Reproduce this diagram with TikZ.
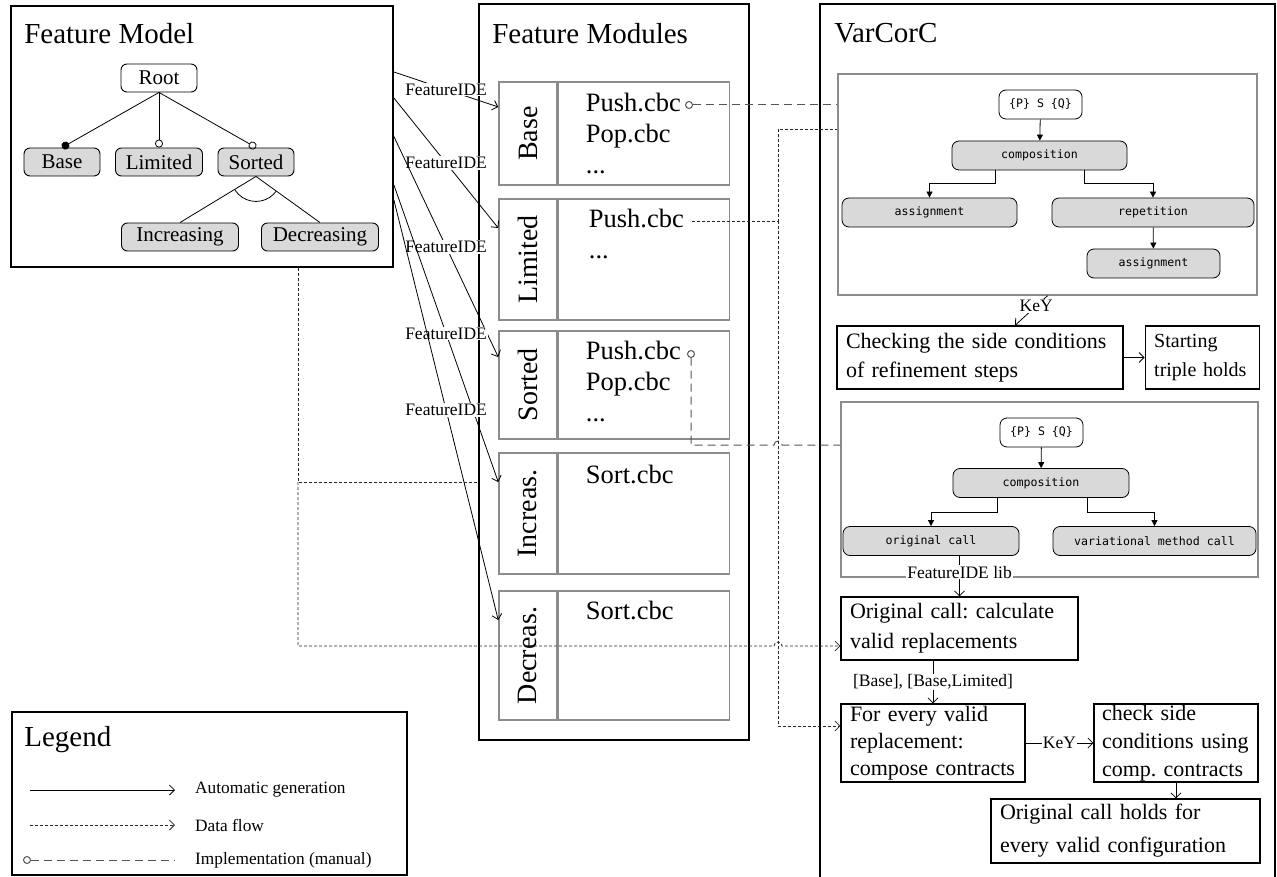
\documentclass[tikz,border=0pt]{standalone}
\usepackage{fontspec}
\setmainfont{Liberation Serif}
\setmonofont{DejaVu Sans Mono}
\usetikzlibrary{arrows.meta, positioning, calc}
\definecolor{featgray}{RGB}{217,217,217}
\definecolor{boxgray}{RGB}{140,140,140}
\definecolor{implgray}{RGB}{85,85,85}
\frenchspacing

\begin{document}
\begin{tikzpicture}[
    x=1pt, y=-1pt,
    panel/.style 2 args={draw=black, line width=1.8pt, minimum width=#1,
                         minimum height=#2, inner sep=0pt},
    paneltitle/.style={anchor=west, inner sep=0pt, font=\fontsize{29}{34}\selectfont},
    feat/.style={draw=black, line width=0.9pt, rounded corners=6pt, fill=featgray,
                 minimum width=#1, minimum height=28pt, inner sep=0pt,
                 font=\fontsize{21}{24}\selectfont},
    level 1/.style={sibling distance=97pt, level distance=84pt},
    level 2/.style={sibling distance=140pt, level distance=75pt},
    parent anchor=south, child anchor=north,
    edge from parent/.style={draw, line width=0.8pt},
    modcol/.style={draw=boxgray, line width=1.5pt, minimum width=58pt,
                   minimum height=#1, inner sep=0pt},
    modbody/.style={draw=boxgray, line width=1.5pt, minimum width=171pt,
                    minimum height=#1, inner sep=0pt},
    modname/.style={rotate=90, inner sep=0pt, font=\fontsize{28}{30}\selectfont},
    modtext/.style={align=left, inner sep=0pt, font=\fontsize{26.5}{31}\selectfont},
    lbl/.style={fill=white, inner sep=1pt, font=\fontsize{17.5}{20}\selectfont},
    gen/.style={line width=0.8pt, -{Straight Barb[length=5pt,width=10pt]}},
    flow/.style={line width=0.8pt, draw=black!85, dash pattern=on 3pt off 2pt},
    flowarrow/.style={flow, -{Straight Barb[length=5pt,width=10pt]}},
    impl/.style={line width=1pt, draw=implgray, dash pattern=on 8pt off 5pt,
                 {Circle[open,length=8pt]}-},
    vbox/.style 2 args={draw=boxgray, line width=1.5pt, minimum width=#1,
                        minimum height=#2, inner sep=0pt},
    cbc/.style={draw=black, line width=0.8pt, rounded corners=7pt, fill=featgray,
                minimum width=#1, minimum height=29pt, inner sep=0pt,
                font=\ttfamily\fontsize{11.6}{13}\selectfont},
    cbcarrow/.style={line width=0.8pt, -{Triangle[length=6pt,width=6pt]}},
    stepbox/.style 2 args={draw=black, line width=1.2pt, align=left, text width=#1,
                           minimum height=#2, inner xsep=9pt, inner ysep=0pt,
                           font=\fontsize{22}{29}\selectfont},
    legtext/.style={anchor=west, inner sep=0pt, font=\fontsize{17.3}{20}\selectfont}
]
\useasboundingbox (0,0) rectangle (1277,877);

% panels
\node[panel={382pt}{261pt}] (fm) at (202,136.5) {};
\node[panel={270pt}{736pt}] (fmod) at (614,372) {};
\node[panel={455pt}{886pt}] (varc) at (1047.5,447) {};
\node[panel={395pt}{163pt}] (leg) at (209.5,793.5) {};
\node[paneltitle] at ([xshift=14pt,yshift=-28pt]fm.north west) {Feature Model};
\node[paneltitle] at ([xshift=14pt,yshift=-30pt]fmod.north west) {Feature Modules};
\node[paneltitle] at ([xshift=15pt,yshift=-30pt]varc.north west) {VarCorC};
\node[paneltitle] at ([xshift=13pt,yshift=-28pt]leg.north west) {Legend};

% feature model
\node[feat=76pt, fill=white] (root) at (159,78) {Root}
    child { node[feat=76pt] (base) {Base}
        edge from parent[-{Circle[length=8pt]}]
    }
    child { node[feat=87pt] (lim) {Limited}
        edge from parent[-{Circle[open,length=8pt]}]
    }
    child { node[feat=76pt] (sorted) {Sorted}
        child { node[feat=117pt, xshift=-6pt] (inc) {Increasing} }
        child { node[feat=117pt, xshift=-6pt] (dec) {Decreasing} }
        edge from parent[-{Circle[open,length=8pt]}]
    };
\begin{scope}
    \clip (sorted.south) -- (inc.north) -- (dec.north) -- cycle;
    \draw[line width=0.8pt] (sorted.south) circle[radius=25pt];
\end{scope}

% feature modules
\node[modcol=103pt] (mBase) at (528,133.5) {};
\node[modbody=103pt, right=0pt of mBase] (bBase) {};
\node[modname] at (mBase) {Base};
\node[modtext, below right=12pt and 28pt of bBase.north west] (tBase) {Push.cbc\\Pop.cbc\\...};

\node[modcol=121pt] (mLim) at (528,259.5) {};
\node[modbody=121pt, right=0pt of mLim] (bLim) {};
\node[modname] at (mLim) {Limited};
\node[modtext, below right=11pt and 31pt of bLim.north west] (tLim) {Push.cbc\\...};

\node[modcol=108pt] (mSort) at (528,385) {};
\node[modbody=108pt, right=0pt of mSort] (bSort) {};
\node[modname] at (mSort) {Sorted};
\node[modtext, below right=11pt and 28pt of bSort.north west] (tSort) {Push.cbc\\Pop.cbc\\...};

\node[modcol=121pt] (mInc) at (528,513.5) {};
\node[modbody=121pt, right=0pt of mInc] (bInc) {};
\node[modname] at (mInc) {Increas.};
\node[modtext, below right=13pt and 28pt of bInc.north west] (tInc) {Sort.cbc};

\node[modcol=129pt] (mDec) at (528,655.5) {};
\node[modbody=129pt, right=0pt of mDec] (bDec) {};
\node[modname] at (mDec) {Decreas.};
\node[modtext, below right=11pt and 28pt of bDec.north west] (tDec) {Sort.cbc};

% VarCorC, first CbC tree
\node[vbox={419pt}{221pt}] (vbox1) at (1047.5,184.5) {};
\node[cbc=83pt, fill=white] (pq1) at (1040.5,104.5) {\{P\} S \{Q\}};
\node[cbc=175pt] (comp1) at (1039.5,155.5) {composition};
\node[cbc=175pt] (asg1) at (929.5,212.5) {assignment};
\node[cbc=202pt] (rep1) at (1153,212.5) {repetition};
\node[cbc=133pt] (asg2) at (1153.5,263.5) {assignment};
\draw[cbcarrow] (pq1) -- (comp1);
\draw[cbcarrow] ([xshift=-44pt]comp1.south) -- ++(0,13) -| (asg1.north);
\draw[cbcarrow] ([xshift=45pt]comp1.south) -- ++(0,13) -| (rep1.north);
\draw[cbcarrow] (rep1) -- (asg2);

\node[stepbox={268pt}{63pt}] (chk) at (980,357.5) {Checking the side conditions\\of refinement steps};
\node[stepbox={96pt}{63pt}, font=\fontsize{20}{29}\selectfont, right=21pt of chk] (start) {Starting\\triple holds};

% VarCorC, second CbC tree
\node[vbox={417pt}{175pt}] (vbox2) at (1049.5,489.5) {};
\node[cbc=83pt, fill=white] (pq2) at (1041.5,432.5) {\{P\} S \{Q\}};
\node[cbc=176pt] (comp2) at (1041,483) {composition};
\node[cbc=176pt] (ocall) at (931,541) {original call};
\node[cbc=203pt] (vcall) at (1154.5,541) {variational method call};
\draw[cbcarrow] (pq2) -- (comp2);
\draw[cbcarrow] ([xshift=-44pt]comp2.south) -- ++(0,14) -| (ocall.north);
\draw[cbcarrow] ([xshift=46pt]comp2.south) -- ++(0,14) -| (vcall.north);

\node[stepbox={219pt}{63pt}, font=\fontsize{22}{30}\selectfont] (orig) at (959.5,628.5) {Original call: calculate\\valid replacements};
\node[stepbox={166pt}{78pt}, font=\fontsize{22}{27}\selectfont] (every) at (933,743) {For every valid\\replacement:\\compose contracts};
\node[stepbox={148pt}{78pt}, inner xsep=8pt, font=\fontsize{22}{28}\selectfont] (side) at (1176,743) {check side\\conditions using\\comp. contracts};
\node[stepbox={251pt}{64pt}, font=\fontsize{22}{33}\selectfont] (holds) at (1125.5,831) {Original call holds for\\every valid configuration};

% automatic generation
\draw[gen] ([yshift=64.5pt]fm.east) -- node[lbl] {FeatureIDE} ([yshift=26.5pt]mBase.west);
\draw[gen] ([yshift=38.5pt]fm.east) -- node[lbl] {FeatureIDE} ([yshift=31.5pt]mLim.west);
\draw[gen] (fm.east) -- node[lbl] {FeatureIDE} ([yshift=28pt]mSort.west);
\draw[gen] ([yshift=-48.5pt]fm.east) -- node[lbl] {FeatureIDE} ([yshift=31.5pt]mInc.west);
\draw[gen] ([yshift=-63.5pt]fm.east) -- node[lbl] {FeatureIDE} ([yshift=35.5pt]mDec.west);
\draw[gen] (vbox1.south) -- node[lbl, pos=0.35] {KeY} ([xshift=35pt]chk.north);
\draw[gen] (chk.east) -- (chk.east -| start.west);
\draw[gen] (ocall.south -| orig.north) -- node[lbl, pos=0.4] {FeatureIDE lib} (orig.north);
\draw[gen] (every.north |- orig.south) -- node[lbl] {[Base], [Base,Limited]} (every.north);
\draw[gen] (every.east) -- node[lbl] {KeY} (side.west);
\draw[gen] (side.south) -- (side.south |- holds.north);

% implementation (manual)
\coordinate (pushB) at (685,105);
\coordinate (pushS) at (691,350);
\draw[impl] (pushB) -- (pushB -| vbox1.west);
\draw[impl] (pushS) -- (pushS |- 0,445) -- (774,445)
    arc[start angle=180, end angle=0, radius=4pt] -- (vbox2.west |- 0,445);

% data flow
\coordinate (pushL) at (692,221);
\coordinate (junc) at (778,221);
\coordinate (dfork) at (298,482);
\draw[flow] (pushL) -- (junc) |- (vbox1.west |- 0,129);
\draw[flowarrow] (junc) |- ([yshift=17pt]every.west);
\draw[flow] ([xshift=96pt]fm.south) -- (dfork) -- (fmod.west |- dfork);
\draw[flowarrow] (dfork) -- (dfork |- 0,646) -- (774,646)
    arc[start angle=180, end angle=0, radius=4pt] -- (orig.west |- 0,646);

% legend
\node[legtext] (lgen) at (195,790) {Automatic generation};
\node[legtext] (lflow) at (195,825) {Data flow};
\node[legtext] (limpl) at (195,860) {Implementation (manual)};
\draw[gen] ([xshift=-165pt]lgen.west) -- ([xshift=-20pt]lgen.west);
\draw[flowarrow] ([xshift=-165pt]lflow.west) -- ([xshift=-20pt]lflow.west);
\draw[impl] ([xshift=-172pt]limpl.west) -- ([xshift=-20pt]limpl.west);
\end{tikzpicture}
\end{document}
